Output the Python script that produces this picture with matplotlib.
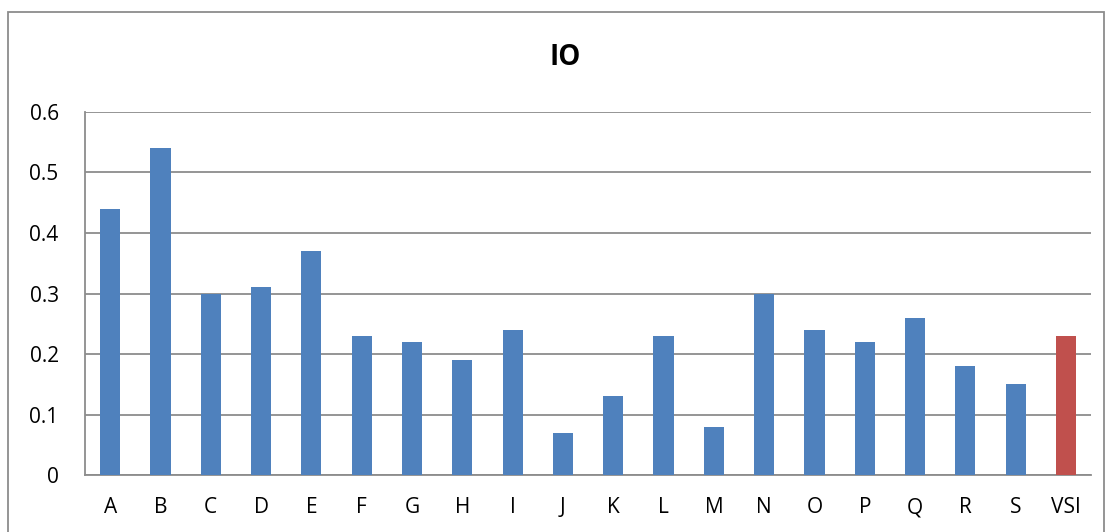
import matplotlib
matplotlib.use("Agg")
import matplotlib.pyplot as plt
from matplotlib.patches import Rectangle

categories = ["A", "B", "C", "D", "E", "F", "G", "H", "I", "J",
              "K", "L", "M", "N", "O", "P", "Q", "R", "S", "VSI"]
io_values = [0.44, 0.54, 0.30, 0.31, 0.37, 0.23, 0.22, 0.19, 0.24, 0.07,
             0.13, 0.23, 0.08, 0.30, 0.24, 0.22, 0.26, 0.18, 0.15, 0.23]
y_ticks = [0, 0.1, 0.2, 0.3, 0.4, 0.5, 0.6]
y_tick_labels = ["0", "0.1", "0.2", "0.3", "0.4", "0.5", "0.6"]

blue = "#4F81BD"
red = "#C0504D"
colors = [blue] * (len(categories) - 1) + [red]

plt.rcParams["font.family"] = ["Open Sans", "DejaVu Sans"]

fig = plt.figure(figsize=(11.1, 5.32), dpi=100)
ax = fig.add_axes([0.0766, 0.1071, 0.9064, 0.6824])

x = list(range(len(categories)))
ax.bar(x, io_values, width=0.4, color=colors, zorder=3)

ax.set_xlim(-0.5, len(categories) - 0.5)
ax.set_ylim(0, 0.6)
ax.set_yticks(y_ticks)
ax.set_yticklabels(y_tick_labels)
ax.set_xticks(x)
ax.set_xticklabels(categories)

ax.yaxis.grid(True, color="#8C8C8C", linewidth=1.3, zorder=0)
ax.set_axisbelow(True)
for side in ("top", "right"):
    ax.spines[side].set_visible(False)
ax.spines["left"].set_color("#8C8C8C")
ax.spines["bottom"].set_color("#8C8C8C")
ax.spines["left"].set_linewidth(1.3)
ax.spines["bottom"].set_linewidth(1.3)
ax.tick_params(axis="both", length=0, labelsize=15, colors="black")
ax.tick_params(axis="y", pad=19)
ax.tick_params(axis="x", pad=16)

fig.text(0.509, 0.892, "IO", ha="center", va="center",
         fontsize=20, fontweight="bold")

# outer chart frame
fig.add_artist(Rectangle((8 / 1110, -0.05), 1096 / 1110, 1 - 12 / 532 + 0.05,
                         transform=fig.transFigure, fill=False,
                         edgecolor="#8C8C8C", linewidth=1.3))

fig.savefig("out.png", dpi=100, facecolor="white")
